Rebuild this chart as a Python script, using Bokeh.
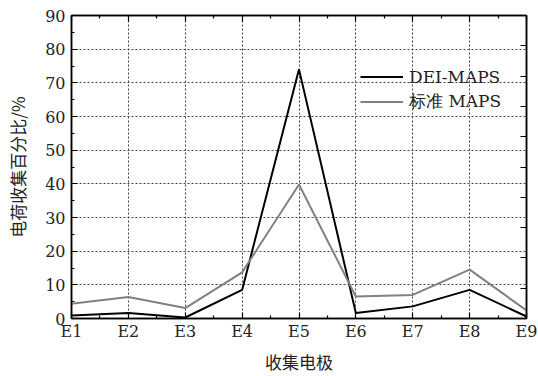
from bokeh.plotting import figure
from bokeh.models import FixedTicker, LinearAxis, Range1d, Legend, LegendItem
from bokeh.embed import file_html
from bokeh.resources import INLINE

categories = ["E1", "E2", "E3", "E4", "E5", "E6", "E7", "E8", "E9"]
dei_maps = [0.9, 1.6, 0.3, 8.5, 74.0, 1.6, 3.6, 8.5, 0.6]
std_maps = [4.4, 6.4, 3.1, 13.7, 39.8, 6.5, 7.0, 14.5, 2.4]
y_ticks = [0, 10, 20, 30, 40, 50, 60, 70, 80, 90]

SERIF = "DejaVu Serif"
CJK = "Noto Sans CJK SC"

xs = list(range(len(categories)))

p = figure(width=538, height=376, output_backend="svg", toolbar_location=None,
           x_range=Range1d(0, len(categories) - 1), y_range=Range1d(0, 90),
           min_border_left=71, min_border_right=12, min_border_top=15, min_border_bottom=58,
           x_axis_location=None, y_axis_location=None)
p.background_fill_color = "white"
p.border_fill_color = "white"
p.outline_line_color = "black"
p.outline_line_width = 1.5

minor_x = [i + 0.5 for i in xs[:-1]]
xticker = FixedTicker(ticks=xs, minor_ticks=minor_x)
yticker = FixedTicker(ticks=y_ticks, minor_ticks=[t + 5 for t in y_ticks[:-1]])

def style_axis(ax):
    ax.axis_line_color = "black"
    ax.axis_line_width = 1.5
    ax.major_tick_in = 6
    ax.major_tick_out = 0
    ax.minor_tick_in = 3
    ax.minor_tick_out = 0
    ax.major_tick_line_color = "black"
    ax.minor_tick_line_color = "black"
    ax.major_tick_line_width = 1.2
    ax.minor_tick_line_width = 1.2
    ax.major_label_text_font = SERIF
    ax.major_label_text_font_size = "16px"
    ax.major_label_text_color = "#222222"
    ax.axis_label_text_font = CJK
    ax.axis_label_text_font_style = "normal"
    ax.axis_label_text_font_size = "17px"
    ax.axis_label_text_color = "#222222"

xb = LinearAxis(ticker=xticker, axis_label="收集电极",
                major_label_overrides={i: c for i, c in enumerate(categories)})
style_axis(xb)
xb.major_label_standoff = 3
xb.axis_label_standoff = 5
p.add_layout(xb, "below")

xt = LinearAxis(ticker=xticker, major_label_text_alpha=0)
style_axis(xt)
xt.major_label_text_font_size = "1px"
xt.major_label_standoff = 0
p.add_layout(xt, "above")

yl = LinearAxis(ticker=yticker, axis_label="电荷收集百分比/%")
style_axis(yl)
yl.major_label_standoff = 6
yl.axis_label_standoff = 12
p.add_layout(yl, "left")

p.extra_y_ranges = {"right": Range1d(0, 100)}
yr = LinearAxis(y_range_name="right", ticker=FixedTicker(ticks=list(range(0, 101, 10)), minor_ticks=[]),
                major_label_text_alpha=0)
style_axis(yr)
yr.major_label_text_font_size = "1px"
yr.major_label_standoff = 0
p.add_layout(yr, "right")

p.xgrid.ticker = FixedTicker(ticks=xs[1:-1])
p.ygrid.ticker = FixedTicker(ticks=y_ticks[1:-1])
for g in (p.xgrid, p.ygrid):
    g.grid_line_color = "#444444"
    g.grid_line_dash = "2 2"
    g.grid_line_width = 1

r1 = p.line(xs, dei_maps, line_color="black", line_width=2)
r2 = p.line(xs, std_maps, line_color="#808080", line_width=2)

legend = Legend(items=[LegendItem(label="DEI-MAPS", renderers=[r1]),
                       LegendItem(label="标准 MAPS", renderers=[r2])],
                location=(289, 204), padding=0, margin=0, spacing=0,
                glyph_width=43, glyph_height=25, label_height=25, label_standoff=6,
                background_fill_alpha=0, border_line_alpha=0,
                label_text_font=SERIF, label_text_font_size="17px",
                label_text_color="#222222")
p.add_layout(legend, "center")

open("out.html", "w").write(file_html(p, INLINE))
